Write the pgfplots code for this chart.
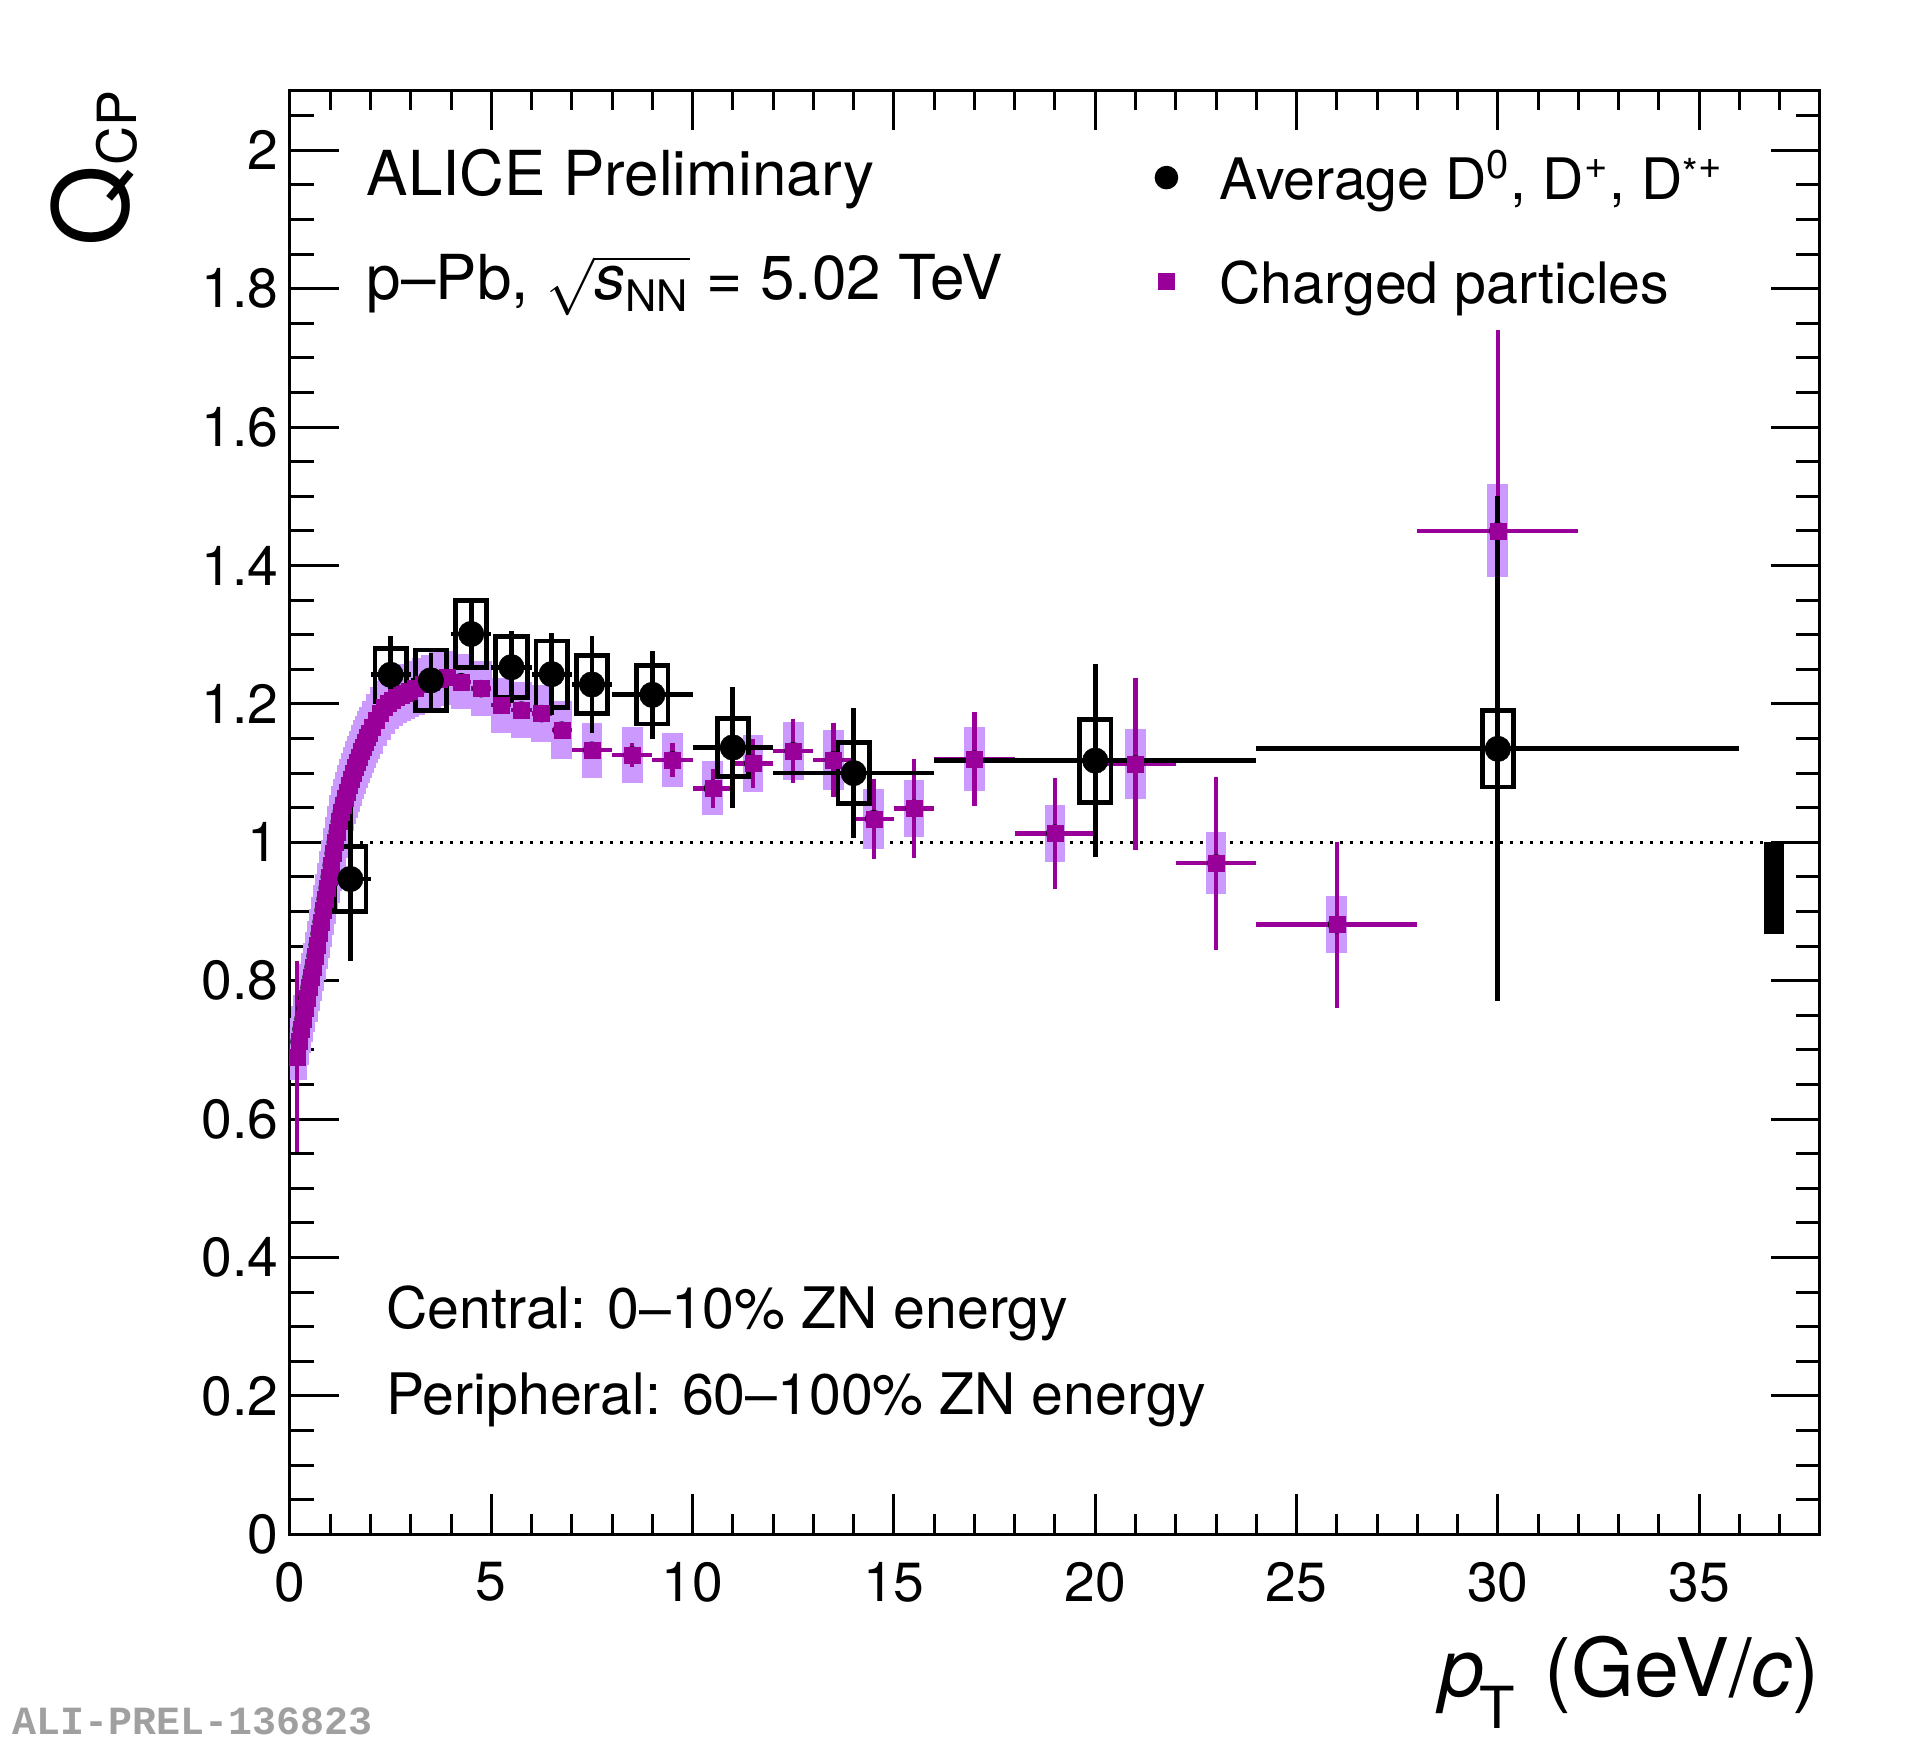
\documentclass[border=0pt]{standalone}
\usepackage{pgfplots}
\pgfplotsset{compat=1.18}
\usepackage{pgfplotstable}
\usepackage{amsmath}
\usepackage{fontspec}
\setmainfont{TeX Gyre Heros}
\newfontfamily\monofont{Liberation Mono}
\definecolor{chmag}{RGB}{153,0,153}
\definecolor{chsys}{RGB}{204,153,255}
\definecolor{prelgray}{RGB}{160,160,160}

% charged particles: x, half bin width, Q_CP, stat, syst
\pgfplotstableread{
x ex y stat sys
0.175 0.025 0.690 0.138 0.034
0.225 0.025 0.712 0.020 0.034
0.275 0.025 0.730 0.010 0.034
0.325 0.025 0.745 0.008 0.034
0.375 0.025 0.760 0.006 0.034
0.425 0.025 0.775 0.005 0.034
0.475 0.025 0.790 0.005 0.034
0.525 0.025 0.805 0.005 0.035
0.575 0.025 0.820 0.005 0.035
0.625 0.025 0.836 0.005 0.035
0.675 0.025 0.852 0.005 0.035
0.725 0.025 0.868 0.005 0.035
0.775 0.025 0.885 0.005 0.036
0.825 0.025 0.902 0.005 0.036
0.875 0.025 0.918 0.005 0.036
0.925 0.025 0.934 0.005 0.036
0.975 0.025 0.950 0.005 0.037
1.025 0.025 0.967 0.005 0.037
1.075 0.025 0.984 0.005 0.037
1.125 0.025 1.000 0.005 0.037
1.175 0.025 1.015 0.005 0.038
1.225 0.025 1.030 0.005 0.038
1.275 0.025 1.044 0.005 0.038
1.325 0.025 1.054 0.005 0.038
1.375 0.025 1.064 0.005 0.038
1.425 0.025 1.073 0.005 0.038
1.475 0.025 1.082 0.005 0.038
1.525 0.025 1.091 0.005 0.038
1.575 0.025 1.100 0.005 0.038
1.625 0.025 1.108 0.005 0.038
1.675 0.025 1.116 0.005 0.038
1.725 0.025 1.123 0.005 0.038
1.775 0.025 1.131 0.005 0.038
1.825 0.025 1.138 0.005 0.038
1.875 0.025 1.145 0.005 0.038
1.925 0.025 1.152 0.005 0.038
1.975 0.025 1.158 0.005 0.038
2.05 0.05 1.166 0.005 0.038
2.15 0.05 1.177 0.005 0.038
2.25 0.05 1.186 0.005 0.038
2.35 0.05 1.195 0.005 0.038
2.45 0.05 1.201 0.005 0.038
2.55 0.05 1.206 0.005 0.038
2.65 0.05 1.210 0.005 0.038
2.75 0.05 1.213 0.005 0.038
2.85 0.05 1.216 0.005 0.038
2.95 0.05 1.219 0.005 0.038
3.1 0.1 1.223 0.006 0.039
3.3 0.1 1.228 0.006 0.039
3.5 0.1 1.232 0.006 0.039
3.7 0.1 1.236 0.007 0.039
3.9 0.1 1.238 0.007 0.039
4.25 0.25 1.232 0.008 0.040
4.75 0.25 1.222 0.008 0.040
5.25 0.25 1.198 0.009 0.040
5.75 0.25 1.191 0.010 0.041
6.25 0.25 1.186 0.011 0.041
6.75 0.25 1.162 0.012 0.042
7.5 0.5 1.133 0.012 0.040
8.5 0.5 1.126 0.017 0.040
9.5 0.5 1.119 0.024 0.039
10.5 0.5 1.078 0.028 0.039
11.5 0.5 1.114 0.035 0.041
12.5 0.5 1.132 0.046 0.042
13.5 0.5 1.119 0.054 0.043
14.5 0.5 1.034 0.058 0.043
15.5 0.5 1.049 0.072 0.041
17 1 1.120 0.068 0.046
19 1 1.013 0.080 0.041
21 1 1.113 0.124 0.050
23 1 0.970 0.125 0.045
26 2 0.881 0.120 0.041
30 2 1.450 0.290 0.067
}\Cdata

% average D mesons: x, half bin width, Q_CP, stat
\pgfplotstableread{
x ex y stat
1.5 0.5 0.947 0.118
2.5 0.5 1.242 0.056
3.5 0.5 1.234 0.040
4.5 0.5 1.301 0.050
5.5 0.5 1.253 0.052
6.5 0.5 1.243 0.059
7.5 0.5 1.228 0.070
9 1 1.213 0.064
11 1 1.137 0.088
14 2 1.100 0.094
20 4 1.118 0.139
30 6 1.135 0.365
}\Ddata

\begin{document}
\begin{tikzpicture}
\path[use as bounding box] (-72.5pt,-50.9pt) rectangle (407.5pt,383.6pt);
\begin{axis}[
  at={(0pt,0pt)}, anchor=south west,
  scale only axis, width=382.5pt, height=361.1pt,
  xmin=0, xmax=38, ymin=0, ymax=2.087,
  xtick={0,5,...,35}, minor xtick={0,1,...,38},
  ytick={0,0.2,0.4,0.6,0.8,1,1.2,1.4,1.6,1.8,2},
  minor ytick={0,0.05,...,2.06},
  tick align=inside,
  major tick length=11pt, minor tick length=5.5pt,
  xtick style={/pgfplots/major tick length=10pt, /pgfplots/minor tick length=5pt},
  ytick style={/pgfplots/major tick length=12.25pt, /pgfplots/minor tick length=6pt},
  axis line style={line width=0.75pt},
  tick style={black, line width=0.75pt},
  tick label style={font=\fontsize{13.8}{13.8}\selectfont},
  /pgf/number format/assume math mode=true,
  xticklabel style={inner sep=0pt, yshift=-6.75pt},
  yticklabel style={inner sep=0pt, xshift=-2.75pt},
  legend image code/.code={\path (-8pt,0pt) (8pt,0pt); \draw[#1] plot coordinates {(0pt,0pt)};},
  legend cell align=left,
  legend style={at={(rel axis cs:0.5514,0.9629)}, anchor=north west,
    draw=none, fill=none, inner sep=0pt, outer sep=0pt,
    row sep=9pt, column sep=5.1pt,
    font=\fontsize{14.3}{14.3}\selectfont,
    nodes={inner sep=0pt, text height=14pt, text depth=3pt}},
]
% reference line at unity
\addplot[forget plot, black, line width=0.8pt, dash pattern=on 0.8pt off 1.7pt]
  coordinates {(0,1) (36.6,1)};

% charged particles: systematic boxes
\addplot[forget plot, only marks, mark=none,
  error bars/.cd, y dir=both, y explicit, error mark=none,
  error bar style={line width=5.2pt, color=chsys}]
  table[x=x, y=y, y error=sys] {\Cdata};

% charged particles: statistical errors and markers
\addplot[forget plot, only marks, color=chmag, mark=square*, mark size=2pt,
  mark options={line width=0.1pt},
  error bars/.cd, x dir=both, x explicit, y dir=both, y explicit, error mark=none,
  error bar style={line width=1.1pt, color=chmag}]
  table[x=x, y=y, x error=ex, y error=stat] {\Cdata};

% D mesons: systematic boxes
\addplot[forget plot, black, line width=1.2pt] coordinates {(1.11,0.900) (1.89,0.900) (1.89,0.994) (1.11,0.994)} -- cycle;
\addplot[forget plot, black, line width=1.2pt] coordinates {(2.11,1.204) (2.89,1.204) (2.89,1.280) (2.11,1.280)} -- cycle;
\addplot[forget plot, black, line width=1.2pt] coordinates {(3.11,1.190) (3.89,1.190) (3.89,1.278) (3.11,1.278)} -- cycle;
\addplot[forget plot, black, line width=1.2pt] coordinates {(4.11,1.253) (4.89,1.253) (4.89,1.349) (4.11,1.349)} -- cycle;
\addplot[forget plot, black, line width=1.2pt] coordinates {(5.11,1.209) (5.89,1.209) (5.89,1.297) (5.11,1.297)} -- cycle;
\addplot[forget plot, black, line width=1.2pt] coordinates {(6.11,1.195) (6.89,1.195) (6.89,1.291) (6.11,1.291)} -- cycle;
\addplot[forget plot, black, line width=1.2pt] coordinates {(7.11,1.186) (7.89,1.186) (7.89,1.270) (7.11,1.270)} -- cycle;
\addplot[forget plot, black, line width=1.2pt] coordinates {(8.61,1.171) (9.39,1.171) (9.39,1.255) (8.61,1.255)} -- cycle;
\addplot[forget plot, black, line width=1.2pt] coordinates {(10.61,1.095) (11.39,1.095) (11.39,1.179) (10.61,1.179)} -- cycle;
\addplot[forget plot, black, line width=1.2pt] coordinates {(13.61,1.056) (14.39,1.056) (14.39,1.144) (13.61,1.144)} -- cycle;
\addplot[forget plot, black, line width=1.2pt] coordinates {(19.61,1.058) (20.39,1.058) (20.39,1.178) (19.61,1.178)} -- cycle;
\addplot[forget plot, black, line width=1.2pt] coordinates {(29.61,1.080) (30.39,1.080) (30.39,1.190) (29.61,1.190)} -- cycle;

% D mesons: statistical errors and markers
\addplot[forget plot, only marks, color=black, mark=*, mark size=3.2pt,
  mark options={line width=0.1pt},
  error bars/.cd, x dir=both, x explicit, y dir=both, y explicit, error mark=none,
  error bar style={line width=1.2pt, color=black}]
  table[x=x, y=y, x error=ex, y error=stat] {\Ddata};

% normalisation uncertainty
\addplot[forget plot, fill=black, draw=none]
  coordinates {(36.6,0.868) (37.1,0.868) (37.1,1) (36.6,1)} -- cycle;

\addlegendimage{black, only marks, mark=*, mark size=2.75pt}
\addlegendentry{Average D\textsuperscript{0}, D\textsuperscript{+}, D\textsuperscript{\raisebox{-0.4ex}{*}+}}
\addlegendimage{chmag, only marks, mark=square*, mark size=2pt}
\addlegendentry{Charged particles}
\end{axis}

\node[anchor=base west, inner sep=0pt, font=\fontsize{15.5}{15.5}\selectfont]
  at (19pt,334.6pt) {ALICE Preliminary};
\node[anchor=base west, inner sep=0pt, font=\fontsize{15.5}{15.5}\selectfont]
  at (19pt,308.6pt) {p--Pb, $\sqrt{\text{\itshape s}_{\text{NN}}}$ = 5.02 TeV};
\node[anchor=base west, inner sep=0pt, font=\fontsize{14.3}{14.3}\selectfont]
  at (23.9pt,51.4pt) {Central: 0--10\% ZN energy};
\node[anchor=base west, inner sep=0pt, font=\fontsize{14.3}{14.3}\selectfont]
  at (23.9pt,30pt) {Peripheral: 60--100\% ZN energy};
\node[anchor=base east, inner sep=0pt, font=\fontsize{20.2}{20.2}\selectfont]
  at (382.5pt,-40.4pt) {\textit{p}\kern-1.2pt\raisebox{-8.2pt}{\fontsize{14.5}{14.5}\selectfont T}\hspace{1.8pt}\ (GeV/\textit{c})};
\node[anchor=base east, rotate=90, inner sep=0pt]
  at (-40.4pt,361.1pt) {\fontsize{26}{26}\selectfont Q\raisebox{-2pt}{\fontsize{13.5}{13.5}\selectfont CP}};
\node[anchor=base west, inner sep=0pt, text=prelgray, font=\monofont\bfseries\fontsize{10}{10}\selectfont]
  at (-69.5pt,-49.9pt) {ALI-PREL-136823};
\end{tikzpicture}
\end{document}
